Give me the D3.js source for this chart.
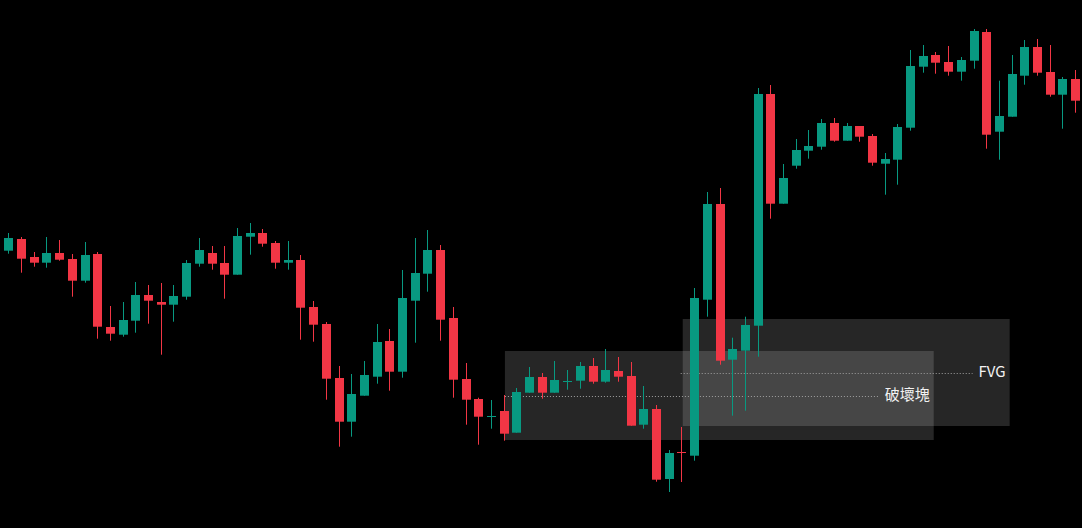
<!DOCTYPE html>
<html>
<head>
<meta charset="utf-8">
<script src="https://cdn.jsdelivr.net/npm/d3@7"></script>
<style>
  html, body { margin: 0; padding: 0; background: #000; }
  svg { display: block; }
</style>
</head>
<body>
<svg id="chart" width="1082" height="528"></svg>
<script>
// ---- Data ----
const opens  = [277.3,289,271,265.3,275,269,247.3,274,201,193.3,207.3,233,226,223.3,231.3,264.3,275,265,253.3,291.3,295,285,265.3,268,221,204,150,106.3,132.3,151.3,187,156.3,227.3,254.3,278,210,149,129,111.3,117,95.3,135.3,151,135.3,146.3,147.3,162,146.3,157,152,103.3,119,49,76,72.3,228.3,324,168.3,177.3,202.3,434,324.3,362.3,377.3,381.3,405,387.3,402,392,364.3,368.3,400.3,461.3,473,466,456.3,467.3,496,396.3,411.3,452.3,481,456,433.3,449];
const highs  = [295,291,276,291,288,274,286,276,222,226,246,243,245,243,268,290,282,282,300,305,299,287,287,273,227,206,162,154,167,204,199,258,290,298,283,221,165,130.3,128,133,140,161,155,167,158,166,170,179,171,166,142,123,78,101,240,336,340,190.3,211.3,440,443,364,389,398,409,410,405,402,394,375,404,478,483,476,482,471,499,499,447.3,473,488,489,483,451,458];
const lows   = [274.3,255.3,261.3,260.3,267.3,231.3,245.3,189.3,187.3,191.3,195.3,204.3,173.3,206.3,228.3,261.3,258.3,229.3,253.3,273.3,281.3,259.3,258.3,188.3,186.3,128.3,81.3,91.3,132.3,144.3,137.3,150.3,185.3,236.3,187.3,130.3,103.3,83.3,99.3,87.3,95.3,135.3,129.3,135.3,138.3,139.3,144.3,145.3,146.3,102.3,99.3,46.3,36,46,67.3,211.3,163.3,112.3,117.3,171.3,309.3,324.3,359.3,369.3,378.3,386.3,387.3,386.3,362.3,333.3,343.3,397.3,455.3,454.3,452.3,447.3,459.3,379.3,368.3,411.3,443.3,452.3,431.3,399.3,415.3];
const closes = [290,269.3,265.3,275,268.3,247.3,273,201.3,194.3,208,233,227.3,223.3,232,265,278,264.3,253.3,292,295,284.3,265.3,268,220.3,203.3,149.3,106.3,134,153,186,156.3,230,255,278,208.3,148.3,128.3,111.3,112,94.3,136,151,135.3,148,147,162,146.3,158,151.3,102.3,119,48.3,75,75.3,230,324,167.3,179,203,434,324.3,350,378,382,405,387.3,402,391.3,365.3,369,401,462,472,465.3,456.3,468,497,393.3,412,454,481,455.3,433.3,449,427.3];

// Zones: [startIndex, endIndex, lowPrice, highPrice]
const zoneLabels = ["破壞塊", "FVG"];
const zoneStart  = [39.1, 53.1];
const zoneEnd    = [72.86, 78.84];
const zoneLow    = [88, 102];
const zoneHigh   = [177, 209];

// ---- Chart ----
const W = 1082, H = 528;
const UP = "#089981", DOWN = "#F23645";
const n = opens.length;
const candles = d3.range(n).map(i => ({i, o: opens[i], h: highs[i], l: lows[i], c: closes[i]}));

const x = d3.scaleLinear().domain([0, n - 1]).range([8.3, 1075.2]);
const y = d3.scaleLinear().domain([0, 528]).range([528, 0]);
const bodyW = 9;

const svg = d3.select("#chart");
svg.append("rect").attr("width", W).attr("height", H).attr("fill", "#000");

// zones (translucent, beneath candles)
const zones = zoneLabels.map((lab, k) => ({
  lab, x0: zoneStart[k], x1: zoneEnd[k], lo: zoneLow[k], hi: zoneHigh[k]
}));
const zg = svg.append("g");
zg.selectAll("rect.zone").data(zones).enter().append("rect")
  .attr("class", "zone")
  .attr("x", d => x(d.x0))
  .attr("y", d => y(d.hi))
  .attr("width", d => x(d.x1) - x(d.x0))
  .attr("height", d => y(d.lo) - y(d.hi))
  .attr("fill", "#fff")
  .attr("fill-opacity", 0.15);

const lg = svg.append("g");
const cgroup = svg.append("g");
const tg = svg.append("g");

zones.forEach(d => {
  const mid = (d.lo + d.hi) / 2;
  const t = tg.append("text")
    .attr("x", x(d.x1) - 4)
    .attr("y", y(mid) - 2)
    .attr("text-anchor", "end")
    .attr("dominant-baseline", "central")
    .attr("fill", "#f2f2f2")
    .style("font-family", "'Noto Sans CJK TC', 'Noto Sans', sans-serif")
    .style("font-size", "15px")
    .text(d.lab);
  const tw = t.node().getComputedTextLength();
  lg.append("line")
    .attr("x1", x(d.x0) - (d.lab === "FVG" ? 2 : 0))
    .attr("x2", x(d.x1) - 4 - tw - 6)
    .attr("y1", Math.round(y(mid)) + 0.5)
    .attr("y2", Math.round(y(mid)) + 0.5)
    .attr("stroke", "#a0a0a0")
    .attr("stroke-width", 1)
    .attr("stroke-dasharray", "1,2");
});

// candles
const cg = cgroup.selectAll("g.candle").data(candles).enter().append("g")
  .attr("class", "candle");
cg.append("line")
  .attr("x1", d => Math.round(x(d.i)) + 0.5)
  .attr("x2", d => Math.round(x(d.i)) + 0.5)
  .attr("y1", d => y(d.h))
  .attr("y2", d => y(d.l))
  .attr("stroke", d => d.c >= d.o ? UP : DOWN)
  .attr("stroke-width", 1);
cg.append("rect")
  .attr("x", d => Math.round(x(d.i)) + 0.5 - bodyW / 2)
  .attr("y", d => y(Math.max(d.o, d.c)))
  .attr("width", bodyW)
  .attr("height", d => Math.max(1, Math.abs(y(d.o) - y(d.c))))
  .attr("fill", d => d.c >= d.o ? UP : DOWN);
</script>
</body>
</html>
